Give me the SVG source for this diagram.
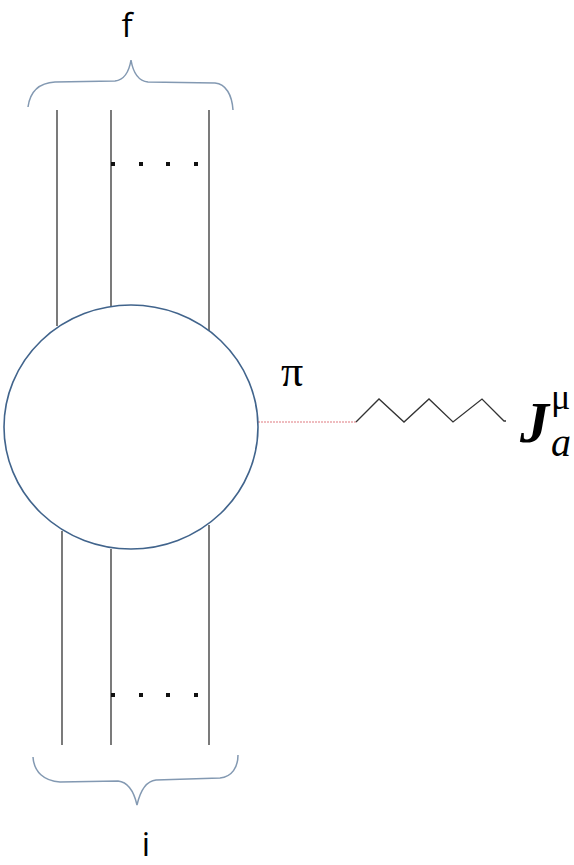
<svg xmlns="http://www.w3.org/2000/svg" width="574" height="865" viewBox="0 0 574 865">
<style>
.ln{stroke:#333;stroke-width:1.3;fill:none}
.br{stroke:#8399b2;stroke-width:1.5;fill:none}
.dot{fill:#111}
.lbl{font-family:"Open Sans","Liberation Sans",sans-serif;fill:#000}
.mth{font-family:"Liberation Serif",serif;fill:#000}
</style>
<rect width="574" height="865" fill="#fff"/>
<g id="connectors">
<line class="ln" x1="57" y1="110" x2="57" y2="326"/>
<line class="ln" x1="111" y1="110" x2="111" y2="306"/>
<line class="ln" x1="209" y1="110" x2="209" y2="331"/>
<line class="ln" x1="62" y1="531" x2="62" y2="745"/>
<line class="ln" x1="111" y1="549" x2="111" y2="745"/>
<line class="ln" x1="209" y1="525" x2="209" y2="745"/>
<line x1="258" y1="422" x2="356" y2="422" stroke="#e07a80" stroke-width="1.2" stroke-dasharray="2,1"/>
<polyline class="ln" stroke="#555" points="356,422 379,399 404,422 429,399 453,422 482,399 504,421 506,421"/>
</g>
<g id="dots">
<rect class="dot" x="111" y="162" width="4" height="4"/>
<rect class="dot" x="139" y="162" width="4" height="4"/>
<rect class="dot" x="166" y="162" width="4" height="4"/>
<rect class="dot" x="194" y="162" width="4" height="4"/>
<rect class="dot" x="111" y="693" width="4" height="4"/>
<rect class="dot" x="139" y="693" width="4" height="4"/>
<rect class="dot" x="166" y="693" width="4" height="4"/>
<rect class="dot" x="194" y="693" width="4" height="4"/>
</g>
<g id="brace-top">
<path class="br" d="M28,107 C30,92 38,83 55,82 L115,81 C124,80 129,72 131,60 C133,72 138,81 148,82 L215,83 C226,84 232,95 233,110"/>
</g>
<g id="brace-bottom">
<path class="br" d="M33,757 C34,772 44,781 60,782 L118,781 C128,782 134,792 137,805 C140,792 146,781 156,780 L220,778 C232,777 238,767 238,755"/>
</g>
<g id="blob">
<ellipse cx="131" cy="427" rx="127" ry="122" fill="none" stroke="#41648c" stroke-width="1.6"/>
</g>
<g id="label-f"><text class="lbl" x="127" y="37" font-size="33" text-anchor="middle">f</text></g>
<g id="label-i"><text class="lbl" x="146" y="856" font-size="33" text-anchor="middle">i</text></g>
<g id="label-pi"><text class="mth" x="281" y="386" font-size="44">π</text></g>
<g id="label-J">
<text class="mth" x="520" y="442" font-size="58" font-style="italic" font-weight="bold">J</text>
<text class="mth" x="551" y="409" font-size="36">μ</text>
<text class="mth" x="551" y="456" font-size="40" font-style="italic">a</text>
</g>
</svg>
